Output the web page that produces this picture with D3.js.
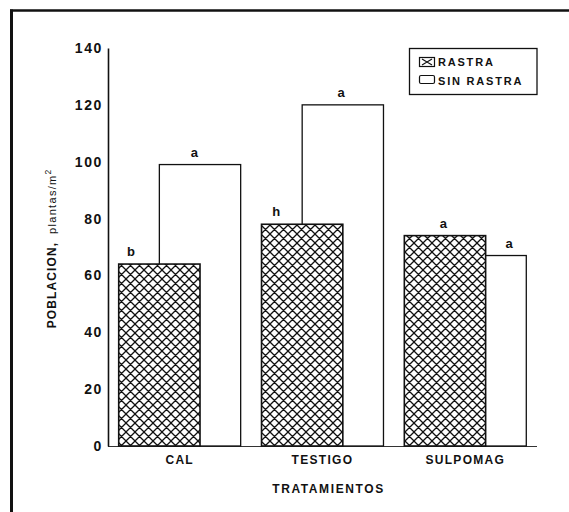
<!DOCTYPE html>
<html>
<head>
<meta charset="utf-8">
<script src="https://cdn.jsdelivr.net/npm/d3@7/dist/d3.min.js"></script>
<style>
  html, body { margin: 0; padding: 0; background: #fff; }
  svg { display: block; }
  text, tspan { font-family: "Liberation Sans", Arial, sans-serif; fill: #111; }
</style>
</head>
<body>
<script>
// ---- data ----
const categories = ["CAL", "TESTIGO", "SULPOMAG"];
const series = ["RASTRA", "SIN RASTRA"];
const rastraValues = [64, 78, 74];
const sinRastraValues = [99, 120, 67];
const rastraLetters = ["b", "h", "a"];
const sinRastraLetters = ["a", "a", "a"];
const yTicks = [0, 20, 40, 60, 80, 100, 120, 140];
const yTitleMain = "POBLACION,";
const yTitleUnit = "plantas/m";
const xTitle = "TRATAMIENTOS";

// ---- layout (not data) ----
const W = 569, H = 512;
const plot = { left: 108, right: 537, top: 48, bottom: 446 };
// horizontal position of significance letters, as a fraction of each bar's width
const rastraLetterFrac = [0.15, 0.18, 0.48];
const sinLetterFrac = [0.43, 0.48, 0.79];

const svg = d3.select("body").append("svg").attr("width", W).attr("height", H);

// hatch pattern
const defs = svg.append("defs");
const pat = defs.append("pattern")
  .attr("id", "hatch").attr("patternUnits", "userSpaceOnUse")
  .attr("width", 9).attr("height", 9);
pat.append("rect").attr("width", 9).attr("height", 9).attr("fill", "#fff");
pat.append("path").attr("d", "M-1,-1 L10,10 M-1,10 L10,-1 M-1,8 L1,10 M8,-1 L10,1 M-1,1 L1,-1 M8,10 L10,8")
  .attr("stroke", "#111").attr("stroke-width", 1.3);

// frame
svg.append("line").attr("x1", 10).attr("x2", W).attr("y1", 10.5).attr("y2", 10.5)
  .attr("stroke", "#111").attr("stroke-width", 2.5);
svg.append("line").attr("x1", 11.5).attr("x2", 11.5).attr("y1", 9.5).attr("y2", H)
  .attr("stroke", "#111").attr("stroke-width", 3);

// scales
const y = d3.scaleLinear().domain([0, 140]).range([plot.bottom, plot.top]);
const x = d3.scaleBand().domain(categories).range([plot.left, plot.right])
  .paddingInner(0.146).paddingOuter(0.075);
const bw = x.bandwidth();
const barW = bw / 1.5;
const xs = d3.scalePoint().domain(series).range([0, bw - barW]);

// x axis line
svg.append("line").attr("x1", plot.left).attr("x2", plot.right)
  .attr("y1", plot.bottom + 0.5).attr("y2", plot.bottom + 0.5)
  .attr("stroke", "#333").attr("stroke-width", 1.2);

// SIN RASTRA bars (behind)
svg.append("g").selectAll("rect").data(sinRastraValues).join("rect")
  .attr("x", (d, i) => x(categories[i]) + xs("SIN RASTRA"))
  .attr("y", d => y(d))
  .attr("width", barW)
  .attr("height", d => y(0) - y(d))
  .attr("fill", "#fff").attr("stroke", "#111").attr("stroke-width", 1.3);

// RASTRA bars (front, hatched)
svg.append("g").selectAll("rect").data(rastraValues).join("rect")
  .attr("x", (d, i) => x(categories[i]) + xs("RASTRA"))
  .attr("y", d => y(d))
  .attr("width", barW)
  .attr("height", d => y(0) - y(d))
  .attr("fill", "url(#hatch)").attr("stroke", "#111").attr("stroke-width", 1.6);

// letters
svg.append("g").selectAll("text").data(rastraValues).join("text")
  .attr("x", (d, i) => x(categories[i]) + xs("RASTRA") + barW * rastraLetterFrac[i])
  .attr("y", d => y(d) - 8)
  .attr("text-anchor", "middle").attr("font-size", 13).attr("font-weight", "bold")
  .text((d, i) => rastraLetters[i]);
svg.append("g").selectAll("text").data(sinRastraValues).join("text")
  .attr("x", (d, i) => x(categories[i]) + xs("SIN RASTRA") + barW * sinLetterFrac[i])
  .attr("y", d => y(d) - 8)
  .attr("text-anchor", "middle").attr("font-size", 13).attr("font-weight", "bold")
  .text((d, i) => sinRastraLetters[i]);

// y axis
const yAxis = d3.axisLeft(y).tickValues(yTicks).tickSize(0).tickPadding(5);
const gy = svg.append("g").attr("transform", `translate(${plot.left},0)`).call(yAxis);
gy.select(".domain").attr("stroke", "#111").attr("stroke-width", 1.6);
gy.selectAll("text").attr("font-size", 14).attr("letter-spacing", 1.6).attr("font-weight", "bold")
  .attr("font-family", "'Liberation Sans', Arial, sans-serif").attr("fill", "#111");

// x axis labels
const xAxis = d3.axisBottom(x).tickSize(0).tickPadding(9);
const gx = svg.append("g").attr("transform", `translate(0,${plot.bottom})`).call(xAxis);
gx.select(".domain").remove();
gx.selectAll("text").attr("font-size", 12).attr("font-weight", "bold").attr("letter-spacing", 1.3)
  .attr("font-family", "'Liberation Sans', Arial, sans-serif").attr("fill", "#111");

// x title
svg.append("text").attr("x", (plot.left + plot.right) / 2 + 6).attr("y", 493)
  .attr("text-anchor", "middle").attr("font-size", 12).attr("font-weight", "bold")
  .attr("letter-spacing", 1.6).text(xTitle);

// y title
const yt = svg.append("text")
  .attr("transform", `translate(56,${(plot.top + plot.bottom) / 2 + 2}) rotate(-90)`)
  .attr("text-anchor", "middle").attr("fill", "#111");
yt.append("tspan").attr("font-size", 12).attr("font-weight", "bold").attr("letter-spacing", 1.1)
  .attr("fill", "#111").text(yTitleMain);
yt.append("tspan").attr("font-size", 11).attr("letter-spacing", 1.3).attr("dx", 8)
  .attr("fill", "#111").text(yTitleUnit);
yt.append("tspan").attr("font-size", 8.5).attr("dy", -5).attr("fill", "#111").text("2");

// legend
const lg = svg.append("g");
lg.append("rect").attr("x", 409.5).attr("y", 48.5).attr("width", 127.5).attr("height", 46)
  .attr("fill", "#fff").attr("stroke", "#111").attr("stroke-width", 1.3);
lg.append("rect").attr("x", 419.5).attr("y", 57.5).attr("width", 15).attr("height", 9)
  .attr("fill", "#fff").attr("stroke", "#111").attr("stroke-width", 1.2);
lg.append("path").attr("d", "M422,59 L432,65 M422,65 L432,59")
  .attr("stroke", "#111").attr("stroke-width", 1.2);
lg.append("rect").attr("x", 419.5).attr("y", 75.5).attr("width", 15).attr("height", 8).attr("rx", 1.5)
  .attr("fill", "#fff").attr("stroke", "#111").attr("stroke-width", 1.2);
lg.selectAll("text.leg").data(series).join("text").attr("class", "leg")
  .attr("x", 438).attr("y", (d, i) => 66 + i * 19)
  .attr("font-size", 11).attr("font-weight", "bold").attr("letter-spacing", 1.8)
  .text(d => d);
</script>
</body>
</html>
